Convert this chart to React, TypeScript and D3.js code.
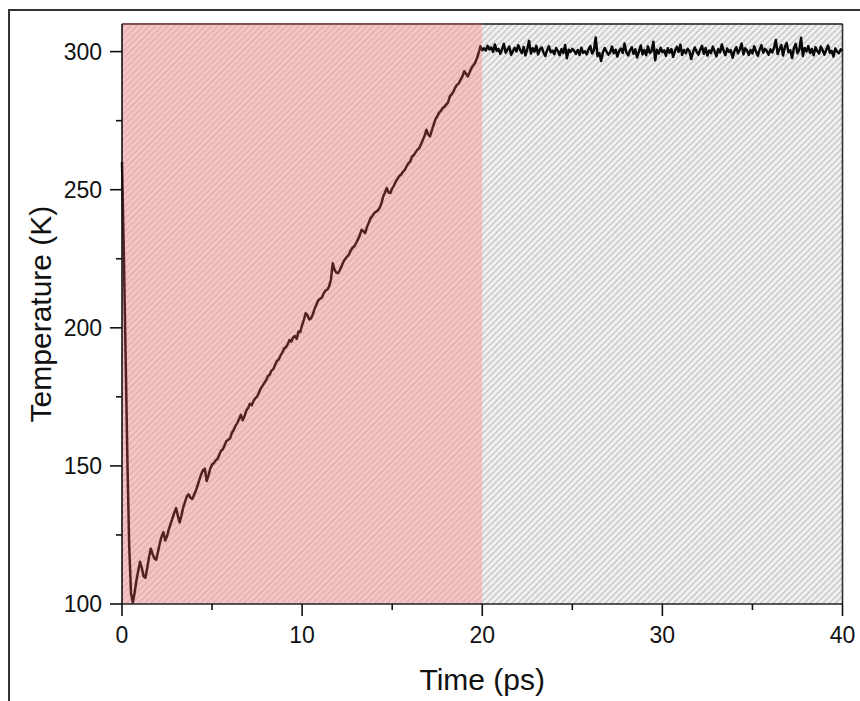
import React from "react";
import * as d3 from "d3";

// Temperature (K) sampled every 0.1 ps from 0 to 40 ps
const TIME_STEP = 0.1;
const rampTemps: number[] = [
  260, 228, 190, 152, 121, 104, 100.5, 104, 108.5, 112,
  115.3, 113, 110, 109.5, 113, 117, 120, 118, 116.5, 116,
  119, 122, 124.5, 126, 123, 124.5, 127, 129, 131, 133,
  134.7, 132, 129.5, 132, 135, 137, 139, 139.7, 138.5, 138,
  139.5, 141, 143, 145, 147, 148.5, 149, 144.5, 146.5, 149,
  150.5, 151, 152, 152.5, 154, 155.5, 156, 157.5, 159, 159.5,
  160, 162, 163, 164.5, 165.5, 167, 168.5, 166.5, 168, 170,
  171, 172.5, 172, 173.5, 174.5, 175, 176.5, 178, 179, 180,
  181, 182.5, 183, 184.5, 185, 186.5, 188, 188.5, 190, 191,
  192.5, 193, 194, 195.6, 195, 196.5, 197, 196, 198.7, 198.5,
  201, 203, 205.3, 204.5, 203, 203.5, 205, 207, 208.5, 210,
  210.5, 211, 212.5, 213.5, 213.8, 215, 217.5, 223.4, 221, 220,
  219.8, 221, 222.5, 224, 225, 225.8, 226.5, 228, 229, 229.5,
  230.7, 232, 233.5, 235.5, 235, 234.3, 236.5, 238, 239.7, 240.5,
  241.5, 242, 242.5, 243.4, 245, 247.5, 249, 250.6, 249, 248.8,
  250.5, 251.5, 253, 254, 255, 255.5, 256.5, 257.2, 258.5, 259.5,
  260.2, 262, 262.5, 263.5, 264.5, 265, 266.5, 268, 269.5, 271.7,
  270, 269.3, 271.5, 273.5, 275.5, 276.5, 277.8, 278.5, 279.5, 280,
  280.8, 281.5, 283.8, 284.5, 285.5, 287, 288, 288.5, 289.9, 291,
  292.9, 292, 291, 292.5, 294, 295, 295.9, 297.5, 299.5, 301.9,
  300.5,
];
const flatTemps: number[] = [
  301.2, 300.4, 302.1, 300.8, 301.5, 299.9, 302.6, 300.3, 301.0, 299.2,
  300.9, 302.8, 299.6, 300.7, 301.8, 298.9, 300.2, 301.4, 300.1, 302.3,
  300.6, 299.4, 301.7, 298.6, 300.9, 303.9, 299.3, 301.2, 300.0, 302.1,
  299.0, 300.8, 301.5, 299.7, 298.4, 300.5, 301.9, 299.8, 300.4, 299.1,
  301.3, 300.2, 298.7, 300.9, 299.5, 302.4, 297.6, 300.7, 299.9, 301.0,
  300.3, 299.2, 300.6, 298.8, 301.4, 299.6, 300.1, 299.0, 300.8, 302.0,
  299.3, 300.5, 305.1, 298.4, 299.5, 296.6, 299.8, 301.3, 300.0, 298.9,
  299.6, 301.8, 299.4, 300.7, 298.2, 300.3, 301.1, 299.5, 302.9, 299.7,
  298.6, 300.4, 301.6, 299.2, 300.8, 297.9, 300.1, 302.2, 299.0, 300.6,
  298.7, 301.9, 299.5, 300.2, 303.6, 296.9, 300.7, 299.3, 301.4, 299.8,
  300.5, 298.5, 301.2, 299.6, 300.9, 298.1, 300.3, 301.7, 299.9, 302.5,
  298.8, 300.6, 299.4, 301.0, 300.2, 297.3, 299.8, 301.5, 300.0, 298.9,
  300.7, 302.1, 299.2, 301.3, 298.6, 300.4, 299.5, 301.8, 300.1, 298.3,
  300.9, 299.7, 302.6, 300.3, 298.7, 301.1, 299.9, 300.5, 297.8, 300.2,
  301.6, 299.4, 300.8, 302.9, 299.0, 301.2, 300.4, 298.8, 300.6, 299.3,
  301.9, 300.0, 298.5, 300.7, 302.3, 299.6, 301.0, 300.2, 298.9, 300.8,
  299.7, 301.4, 304.2, 299.1, 300.9, 302.4, 298.6, 301.7, 303.1, 299.8,
  300.5, 297.7, 301.2, 302.8, 299.4, 300.6, 305.0, 298.4, 301.3, 300.1,
  302.0, 299.5, 300.9, 298.7, 301.6, 300.2, 299.3, 301.8, 300.4, 298.9,
  300.7, 302.2, 299.6, 300.3, 298.2, 301.1, 300.0, 299.4, 300.8, 300.3,
];
const xTicks = [0, 10, 20, 30, 40];
const xMinorTicks = [5, 15, 25, 35];
const yTicks = [100, 150, 200, 250, 300];
const yMinorTicks = [125, 175, 225, 275];
const phaseBounds = [0, 20, 40];

const W = 860;
const H = 701;
const L = 122;
const R = 842.5;
const T = 24;
const B = 604;

export default function App() {
  const temps = rampTemps.concat(flatTemps);
  const data = temps.map((v, i) => ({ t: i * TIME_STEP, v }));
  const x = d3.scaleLinear().domain([0, 40]).range([L, R]);
  const y = d3.scaleLinear().domain([100, 310]).range([B, T]);
  const line = d3
    .line<{ t: number; v: number }>()
    .x((d) => x(d.t))
    .y((d) => y(d.v));
  const font = "'Liberation Sans', Arial, sans-serif";
  return (
    <svg
      width={W}
      height={H}
      style={{ position: "absolute", left: 0, top: 0 }}
      fontFamily={font}
    >
      <defs>
        <pattern
          id="hatchRed"
          patternUnits="userSpaceOnUse"
          width={4.4}
          height={4.4}
          patternTransform="rotate(45)"
        >
          <rect x={0} y={0} width={1.5} height={4.4} fill="rgba(140,40,40,0.14)" />
        </pattern>
        <pattern
          id="hatchGray"
          patternUnits="userSpaceOnUse"
          width={4.4}
          height={4.4}
          patternTransform="rotate(45)"
        >
          <rect x={0} y={0} width={1.5} height={4.4} fill="rgba(0,0,0,0.17)" />
        </pattern>
      </defs>
      <rect x={0} y={0} width={W} height={H} fill="#fff" />
      <rect x={9} y={10} width={900} height={900} fill="none" stroke="#333" strokeWidth={2} />
      <line x1={L} x2={R} y1={T} y2={T} stroke="#222" strokeWidth={1.6} />
      <line x1={R} x2={R} y1={T} y2={B} stroke="#333" strokeWidth={1.6} />
      <path d={line(data) || ""} fill="none" stroke="#0a0a0a" strokeWidth={2.5} strokeLinejoin="round" />
      <rect
        x={x(phaseBounds[0])}
        y={T - 1}
        width={x(phaseBounds[1]) - x(phaseBounds[0])}
        height={B - T + 1}
        fill="rgba(222,78,78,0.33)"
      />
      <rect
        x={x(phaseBounds[0])}
        y={T - 1}
        width={x(phaseBounds[1]) - x(phaseBounds[0])}
        height={B - T + 1}
        fill="url(#hatchRed)"
      />
      <rect
        x={x(phaseBounds[1])}
        y={T - 1}
        width={x(phaseBounds[2]) - x(phaseBounds[1])}
        height={B - T + 1}
        fill="rgba(0,0,0,0.055)"
      />
      <rect
        x={x(phaseBounds[1])}
        y={T - 1}
        width={x(phaseBounds[2]) - x(phaseBounds[1])}
        height={B - T + 1}
        fill="url(#hatchGray)"
      />
      <line x1={L} x2={L} y1={T} y2={B} stroke="#111" strokeWidth={1.6} />
      <line x1={L} x2={R} y1={B} y2={B} stroke="#222" strokeWidth={1.6} />
      {xTicks.map((t) => (
        <g key={"xt" + t}>
          <line x1={x(t)} x2={x(t)} y1={B} y2={B + 12} stroke="#111" strokeWidth={1.6} />
          <text x={x(t)} y={643} textAnchor="middle" fontSize={23} fill="#111">
            {t}
          </text>
        </g>
      ))}
      {xMinorTicks.map((t) => (
        <line key={"xm" + t} x1={x(t)} x2={x(t)} y1={B} y2={B + 6} stroke="#111" strokeWidth={1.6} />
      ))}
      {yTicks.map((t) => (
        <g key={"yt" + t}>
          <line x1={L - 12} x2={L} y1={y(t)} y2={y(t)} stroke="#111" strokeWidth={1.6} />
          <text x={102} y={y(t) + 8} textAnchor="end" fontSize={23} fill="#111">
            {t}
          </text>
        </g>
      ))}
      {yMinorTicks.map((t) => (
        <line key={"ym" + t} x1={L - 6} x2={L} y1={y(t)} y2={y(t)} stroke="#111" strokeWidth={1.6} />
      ))}
      <text x={(L + R) / 2} y={690} textAnchor="middle" fontSize={30} fill="#111">
        Time (ps)
      </text>
      <text
        transform={`translate(51,${(T + B) / 2}) rotate(-90)`}
        textAnchor="middle"
        fontSize={30}
        fill="#111"
      >
        Temperature (K)
      </text>
    </svg>
  );
}
